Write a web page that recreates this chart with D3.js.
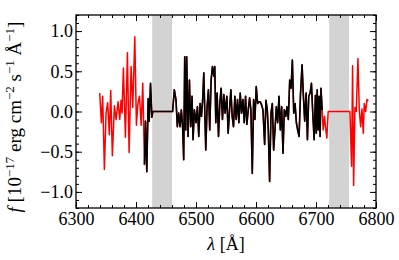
<!DOCTYPE html>
<html>
<head>
<meta charset="utf-8">
<script src="https://cdn.jsdelivr.net/npm/d3@7"></script>
<style>
  body { margin: 0; background: #fff; }
  svg { display: block; }
  text { font-family: "Liberation Serif", "DejaVu Serif", serif; fill: #000; }
</style>
</head>
<body>
<svg id="chart"></svg>
<script>
// spectrum pieces, [wavelength (A), flux (1e-17 erg/cm2/s/A)]
const specLeft = [
  [6339.5, 0.23], [6342.3, -0.14], [6344.5, 0.19], [6347.3, -0.72], [6350.1, -0.02],
  [6352.8, 0.11], [6355.6, -0.29], [6357.9, 0.26], [6360.6, -0.55], [6364.0, 0.07],
  [6366.8, -0.10], [6370.1, 0.12], [6372.9, -0.10], [6375.1, 0.14], [6376.8, -0.02],
  [6379.0, 0.54], [6382.4, -0.32], [6385.7, 0.73], [6388.5, -0.51], [6391.8, 0.56],
  [6394.6, 0.05], [6398.0, 0.93], [6400.7, -0.17], [6403.0, 0.09], [6405.8, 0.19],
  [6408.6, -0.17], [6411.3, 0.35], [6414.1, -0.66]
];
const specMid = [
  [6414.1, -0.66], [6415.8, -0.12], [6418.0, -0.75], [6420.3, 0.16], [6422.0, -0.12],
  [6424.2, 0.35], [6426.4, -0.07], [6428.0, 0.0], [6461.0, 0.0], [6463.9, 0.27],
  [6466.7, 0.14], [6468.9, -0.19], [6471.1, -0.02], [6473.4, -0.19], [6475.6, 0.02],
  [6477.8, -0.21], [6479.5, -0.60], [6481.2, 0.68], [6482.9, -0.23], [6484.5, 0.68],
  [6486.8, -0.31], [6489.0, 0.39], [6491.2, -0.19], [6493.4, 0.19], [6495.1, -0.35],
  [6497.3, 0.02], [6500.1, -0.14], [6502.4, 0.06], [6504.6, -0.31], [6506.8, 0.10],
  [6509.1, -0.06], [6511.3, 0.17], [6513.0, 0.48], [6516.3, -0.48], [6518.5, 0.06],
  [6520.7, 0.27], [6522.9, -0.23], [6525.2, 0.39], [6527.4, 0.56], [6529.7, 0.44],
  [6531.3, 0.56], [6533.0, -0.14], [6535.2, 0.23], [6537.5, -0.31], [6539.7, 0.10],
  [6541.9, 0.29], [6544.1, -0.10], [6546.4, 0.21], [6548.6, -0.02], [6551.4, 0.19],
  [6553.6, -0.27], [6555.9, 0.02], [6558.1, 0.27], [6560.3, -0.06], [6562.5, -0.19],
  [6564.8, 0.19], [6567.0, -0.10], [6569.2, 0.15], [6571.5, -0.14], [6573.7, 0.23],
  [6575.9, -0.02], [6578.2, 0.15], [6580.4, -0.14], [6582.6, 0.19], [6584.8, -0.16],
  [6587.1, 0.02], [6589.3, 0.17], [6591.5, 0.02], [6593.8, -0.77], [6596.0, 0.15],
  [6598.2, -0.10], [6600.4, 0.31], [6602.7, 0.10], [6604.9, 0.12], [6607.1, 0.12],
  [6609.4, 0.08], [6611.6, 0.02], [6614.4, -0.41], [6616.6, 0.14], [6618.8, 0.02],
  [6620.5, -0.23], [6622.7, -0.87], [6625.0, -0.02], [6627.2, 0.10], [6629.4, -0.48],
  [6631.6, -0.23], [6633.9, 0.06], [6636.1, -0.14], [6638.3, 0.19], [6640.6, -0.23],
  [6642.8, 0.06], [6645.0, -0.52], [6647.2, 0.02], [6649.5, -0.06], [6651.7, 0.06],
  [6653.9, -0.10], [6656.2, 0.39], [6658.4, 0.29], [6660.6, 0.64], [6662.9, -0.02],
  [6665.1, 0.10], [6667.3, -0.14], [6669.5, -0.23], [6671.8, -0.31], [6674.0, 0.19],
  [6676.8, 0.58], [6679.0, 0.19], [6681.2, -0.12], [6683.5, 0.23], [6685.7, -0.35],
  [6687.9, 0.19], [6690.2, 0.23], [6692.4, 0.35], [6694.6, -0.02], [6696.9, -0.35],
  [6699.0, 0.20], [6700.5, -0.27], [6702.0, 0.27], [6703.6, -0.23], [6705.2, 0.19],
  [6706.8, -0.31], [6708.3, 0.29], [6710.3, 0.02]
];
const specRight = [
  [6710.3, 0.02], [6711.9, -0.23], [6714.2, -0.06], [6715.8, -0.19], [6718.1, -0.33],
  [6720.3, 0.0], [6756.5, 0.0], [6759.3, -0.68], [6761.0, 0.57], [6762.7, -0.92],
  [6764.9, 0.05], [6767.1, 0.0], [6769.9, 0.66], [6772.1, 0.02], [6774.4, -0.19],
  [6776.6, 0.03], [6778.8, -0.27], [6780.4, 0.10], [6782.8, 0.0], [6785.0, 0.15],
  [6787.1, 0.13]
];
// masked wavelength windows (grey)
const maskBands = [[6427, 6460], [6722, 6755]];

const xTicks = [6300, 6400, 6500, 6600, 6700, 6800];
const yTicks = [-1.0, -0.5, 0.0, 0.5, 1.0];

const serif = '"Liberation Serif", "DejaVu Serif", serif';
const margin = {top: 15, right: 23, bottom: 52, left: 76};
const width = 300, height = 193;

const svg = d3.select("#chart")
    .attr("width", width + margin.left + margin.right)
    .attr("height", height + margin.top + margin.bottom);

const g = svg.append("g").attr("transform", `translate(${margin.left},${margin.top})`);

const x = d3.scaleLinear().domain([6300, 6800]).range([0, width]);
const y = d3.scaleLinear().domain([-1.2, 1.2]).range([height, 0]);

g.selectAll("rect.mask")
    .data(maskBands)
    .join("rect")
    .attr("class", "mask")
    .attr("x", d => x(d[0]))
    .attr("width", d => x(d[1]) - x(d[0]))
    .attr("y", 0)
    .attr("height", height)
    .attr("fill", "#d3d3d3");

const line = d3.line().x(d => x(d[0])).y(d => y(d[1]));

const full = specLeft.concat(specMid.slice(1), specRight.slice(1));

g.append("path")
    .attr("d", line(full))
    .attr("fill", "none")
    .attr("stroke", "#ff0000")
    .attr("stroke-width", 1.5)
    .attr("stroke-linejoin", "round");

g.append("path")
    .attr("d", line(specMid))
    .attr("fill", "none")
    .attr("stroke", "#000")
    .attr("stroke-width", 1.6)
    .attr("stroke-linejoin", "round");

const fmt = d => d3.format(".1f")(d).replace("-", "\u2212");
const minorX = d3.range(6300, 6801, 20);
const minorY = d3.range(-12, 13).map(d => d / 10);

function style(sel) {
    sel.attr("font-family", serif);
    sel.select(".domain").remove();
    sel.selectAll(".tick line").attr("stroke", "#000").attr("stroke-width", 1);
    sel.selectAll(".tick text").attr("font-size", "18px").attr("fill", "#000");
}

// minor ticks, all sides, pointing in
g.append("g").attr("transform", `translate(0,${height})`)
    .call(d3.axisBottom(x).tickValues(minorX).tickSize(-3).tickFormat("")).call(style);
g.append("g")
    .call(d3.axisTop(x).tickValues(minorX).tickSize(-3).tickFormat("")).call(style);
g.append("g")
    .call(d3.axisLeft(y).tickValues(minorY).tickSize(-3).tickFormat("")).call(style);
g.append("g").attr("transform", `translate(${width},0)`)
    .call(d3.axisRight(y).tickValues(minorY).tickSize(-3).tickFormat("")).call(style);

// major ticks
g.append("g").attr("transform", `translate(0,${height})`)
    .call(d3.axisBottom(x).tickValues(xTicks).tickSize(-6).tickPadding(4).tickFormat(d3.format("d")))
    .call(style);
g.append("g")
    .call(d3.axisTop(x).tickValues(xTicks).tickSize(-6).tickFormat("")).call(style);
g.append("g")
    .call(d3.axisLeft(y).tickValues(yTicks).tickSize(-6).tickPadding(3).tickFormat(fmt))
    .call(style);
g.append("g").attr("transform", `translate(${width},0)`)
    .call(d3.axisRight(y).tickValues(yTicks).tickSize(-6).tickFormat("")).call(style);

g.append("rect")
    .attr("width", width)
    .attr("height", height)
    .attr("fill", "none")
    .attr("stroke", "#000")
    .attr("stroke-width", 1.3);

// x label
const xl = svg.append("text")
    .attr("x", margin.left + width / 2)
    .attr("y", 250)
    .attr("text-anchor", "middle")
    .attr("font-size", "18px");
xl.append("tspan").attr("font-style", "italic").text("\u03bb");
xl.append("tspan").text(" [\u00c5]");

// y label
const yl = svg.append("text")
    .attr("transform", `translate(21,117) rotate(-90)`)
    .attr("text-anchor", "middle")
    .attr("font-size", "19px");
const parts = [
    ["f", "it"], [" [10", ""], ["\u221217", "sup"], [" erg cm", ""], ["\u22122", "sup"],
    [" s", ""], ["\u22121", "sup"], [" \u00c5", ""], ["\u22121", "sup"], ["]", ""]
];
parts.forEach(([t, kind]) => {
    const ts = yl.append("tspan").text(t);
    if (kind === "it") ts.attr("font-style", "italic");
    if (kind === "sup") ts.attr("font-size", "13px").attr("baseline-shift", "7px");
});
</script>
</body>
</html>
